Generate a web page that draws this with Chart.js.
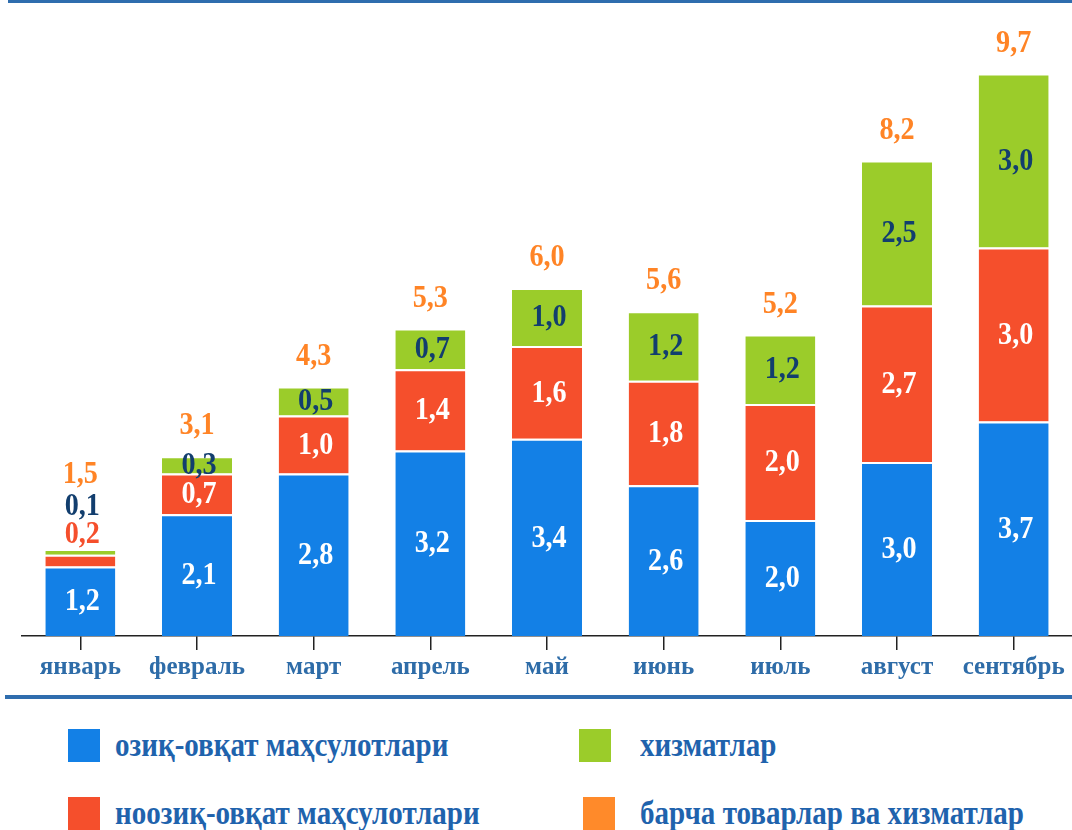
<!DOCTYPE html>
<html>
<head>
<meta charset="utf-8">
<script src="https://cdn.jsdelivr.net/npm/chart.js@4"></script>
<style>
  html, body { margin: 0; padding: 0; background: #fff; }
  #wrap { position: relative; width: 1072px; height: 830px; overflow: hidden; background: #fff; }
  #c { position: absolute; left: 0; top: 0; }
  .hline { position: absolute; background: #2F6DAE; }
  .sw { position: absolute; width: 32px; height: 33px; }
  .lt { position: absolute; font-family: "Liberation Serif", serif; font-weight: bold; font-size: 33px;
        color: #1F63AD; white-space: nowrap; transform: scaleX(0.88); transform-origin: left center; line-height: 1; }
</style>
</head>
<body>
<div id="wrap">
  <div class="hline" style="left:8px; top:0; width:1064px; height:3px;"></div>
  <canvas id="c" width="1072" height="700"></canvas>
  <div class="hline" style="left:5px; top:695px; width:1067px; height:4px;"></div>
  <div id="legend"></div>
</div>
<script>
const categories = ["январь", "февраль", "март", "апрель", "май", "июнь", "июль", "август", "сентябрь"];
const foodValues = [1.2, 2.1, 2.8, 3.2, 3.4, 2.6, 2.0, 3.0, 3.7];
const nonFoodValues = [0.2, 0.7, 1.0, 1.4, 1.6, 1.8, 2.0, 2.7, 3.0];
const serviceValues = [0.1, 0.3, 0.5, 0.7, 1.0, 1.2, 1.2, 2.5, 3.0];
const totalValues = [1.5, 3.1, 4.3, 5.3, 6.0, 5.6, 5.2, 8.2, 9.7];
const seriesNames = ["озиқ-овқат маҳсулотлари", "ноозиқ-овқат маҳсулотлари", "хизматлар", "барча товарлар ва хизматлар"];
const seriesColors = ["#1380E6", "#F54F2C", "#9BCC2A", "#FF8A2A"];
const labelColors = ["#FFFFFF", "#FFFFFF", "#123E6E", "#FF8426"];

function fmt(v) { return v.toFixed(1).replace(".", ","); }

const labelPlugin = {
  id: "valueLabels",
  afterDatasetsDraw(chart) {
    const ctx = chart.ctx;
    const n = categories.length;
    ctx.save();
    ctx.font = "bold 32px 'Liberation Serif', serif";
    ctx.textAlign = "center";
    ctx.textBaseline = "middle";
    for (let i = 0; i < n; i++) {
      const topEl = chart.getDatasetMeta(2).data[i];
      const stackTop = Math.min(topEl.y, topEl.base);
      let prevY = Infinity;
      let outside = false;
      for (let d = 0; d < 3; d++) {
        const el = chart.getDatasetMeta(d).data[i];
        const h = Math.abs(el.base - el.y);
        let y, color;
        if (h >= 15) {
          y = (el.y + el.base) / 2;
          if (y > prevY - 23) y = prevY - 23;
          color = labelColors[d];
        } else {
          // segment too thin to hold its label: put the label just above the stack
          y = Math.min(prevY - 28, stackTop - 15);
          color = d === 2 ? labelColors[d] : seriesColors[d];
          outside = true;
        }
        prevY = y;
        drawText(ctx, fmt(chart.data.datasets[d].data[i]), el.x + 2, y + 1, color);
      }
      const pt = chart.getDatasetMeta(3).data[i];
      let ty = pt.y - 30;
      const gap = outside ? 31 : 25;
      if (ty > prevY - gap) ty = prevY - gap;
      drawText(ctx, fmt(chart.data.datasets[3].data[i]), pt.x, ty, labelColors[3]);
    }
    ctx.restore();
  }
};
function drawText(ctx, t, x, y, color) {
  ctx.save();
  ctx.translate(x, y);
  ctx.scale(0.88, 1);
  ctx.fillStyle = color;
  ctx.fillText(t, 0, 0);
  ctx.restore();
}

const barCommon = {
  type: "bar",
  stack: "s",
  categoryPercentage: 1,
  barPercentage: 0.6,
  borderColor: "#FFFFFF",
  borderWidth: { top: 2, left: 0, right: 0, bottom: 0 },
  borderSkipped: false
};

new Chart(document.getElementById("c"), {
  data: {
    labels: categories,
    datasets: [
      Object.assign({}, barCommon, { label: seriesNames[0], data: foodValues, backgroundColor: seriesColors[0] }),
      Object.assign({}, barCommon, { label: seriesNames[1], data: nonFoodValues, backgroundColor: seriesColors[1] }),
      Object.assign({}, barCommon, { label: seriesNames[2], data: serviceValues, backgroundColor: seriesColors[2] }),
      { type: "line", label: seriesNames[3], data: totalValues, stack: "total", showLine: false,
        pointRadius: 0, pointHoverRadius: 0, borderColor: seriesColors[3], backgroundColor: seriesColors[3] }
    ]
  },
  options: {
    responsive: false,
    animation: false,
    events: [],
    layout: { padding: { top: 56, left: 22, right: 0, bottom: 0 } },
    plugins: { legend: { display: false }, tooltip: { enabled: false } },
    scales: {
      x: {
        stacked: true,
        offset: true,
        afterFit(scale) { scale.height = 64; },
        grid: { display: true, offset: false, drawOnChartArea: false, drawTicks: true, tickLength: 14, color: "#222", lineWidth: 1.5 },
        border: { display: true, color: "#222", width: 1.5 },
        ticks: { color: "#2E6CA8", padding: 3, font: { family: "'Liberation Serif', serif", weight: "bold", size: 25 } }
      },
      y: {
        stacked: true,
        display: false,
        min: 0,
        max: 10
      }
    }
  },
  plugins: [labelPlugin]
});

// HTML legend built from the series arrays
const legendPos = [
  { sx: 68, sy: 729, tx: 115, ty: 746 },
  { sx: 68, sy: 797, tx: 115, ty: 814 },
  { sx: 579, sy: 729, tx: 640, ty: 746 },
  { sx: 583, sy: 797, tx: 640, ty: 814 }
];
const lg = document.getElementById("legend");
seriesNames.forEach((name, k) => {
  const p = legendPos[k];
  const sw = document.createElement("div");
  sw.className = "sw";
  sw.style.left = p.sx + "px"; sw.style.top = p.sy + "px"; sw.style.background = seriesColors[k];
  lg.appendChild(sw);
  const t = document.createElement("div");
  t.className = "lt";
  t.textContent = name;
  t.style.left = p.tx + "px"; t.style.top = (p.ty - 17) + "px";
  lg.appendChild(t);
});
</script>
</body>
</html>
